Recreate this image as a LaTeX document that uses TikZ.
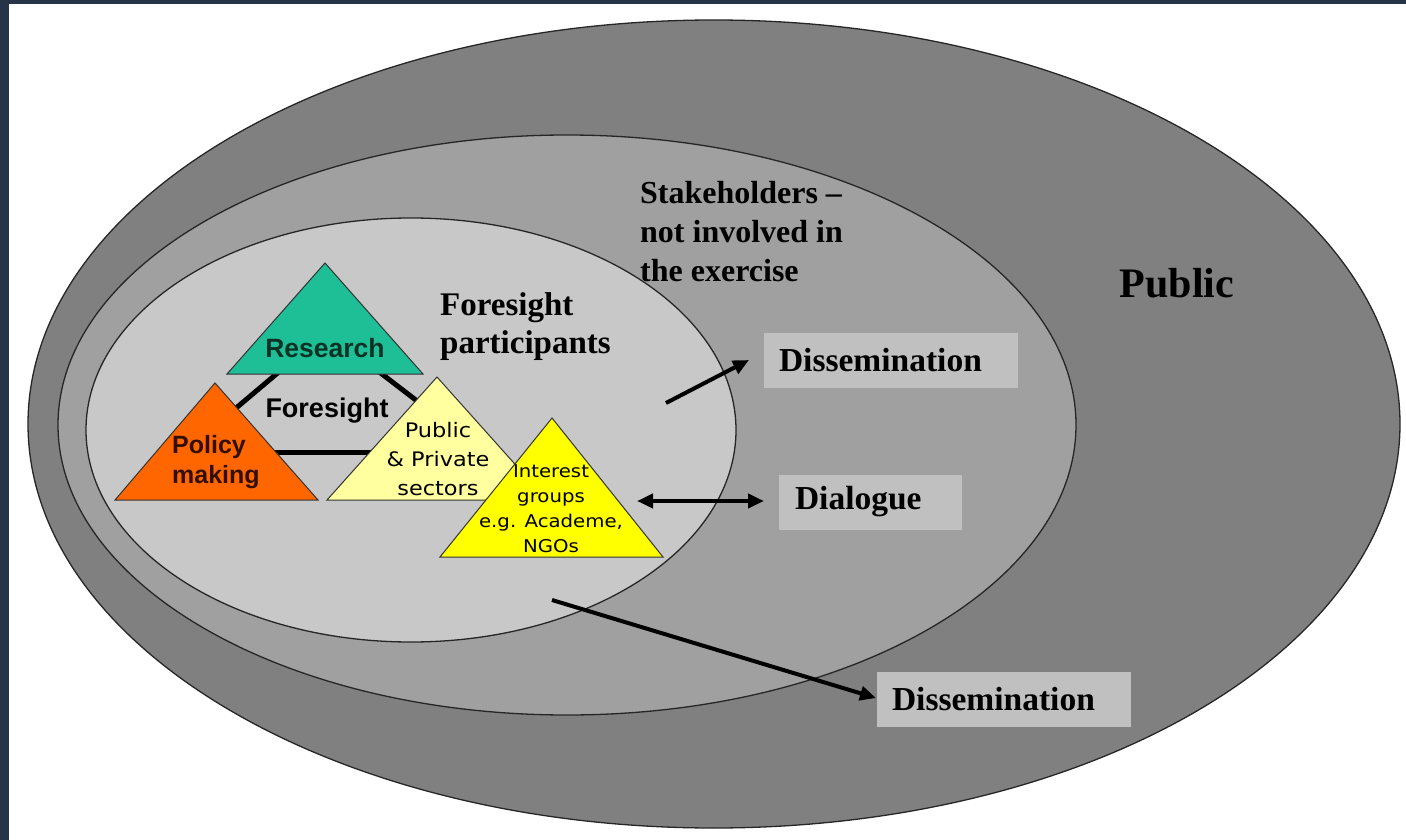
\documentclass[tikz,border=0pt]{standalone}
\usepackage{fontspec}
\setmainfont{Liberation Serif}
\newfontfamily\sansB{Liberation Sans}
\newfontfamily\dvs[FakeStretch=1.12]{DejaVu Sans}
\usetikzlibrary{arrows.meta,shapes.geometric}
\definecolor{framec}{RGB}{38,52,72}
\definecolor{outerg}{RGB}{128,128,128}
\definecolor{midg}{RGB}{160,160,160}
\definecolor{innerg}{RGB}{200,200,200}
\definecolor{boxg}{RGB}{192,192,192}
\definecolor{teal}{RGB}{30,190,150}
\definecolor{orng}{RGB}{255,102,0}
\definecolor{lyel}{RGB}{255,255,160}
\definecolor{yel}{RGB}{255,255,0}
\definecolor{dgreen}{RGB}{12,50,38}
\definecolor{dbrown}{RGB}{50,15,0}
\tikzset{
  ell/.style={ellipse, draw=black!85, line width=1.3pt, inner sep=0pt},
  tri/.style={draw=black!80, line width=1pt, line join=miter},
  link/.style={line width=5pt, black},
  lbox/.style={fill=boxg, inner xsep=15pt, inner ysep=0pt, minimum height=55pt, align=left,
     font=\fontsize{33.5}{38}\selectfont\bfseries},
  arr/.style={line width=4pt, -{Triangle[length=16pt,width=14pt]}},
  darr/.style={line width=4pt, {Triangle[length=16pt,width=14pt]}-{Triangle[length=16pt,width=14pt]}},
}
\begin{document}
\begin{tikzpicture}[x=1pt,y=-1pt]
\fill[framec] (0,0) rectangle (1406,840);
\fill[white] (9,4) rectangle (1406,840);
\useasboundingbox (0,0) rectangle (1406,840);

% ellipses
\node[ell, fill=outerg, minimum width=1372pt, minimum height=808pt] (public) at (714,424) {};
\node[ell, fill=midg, minimum width=1018pt, minimum height=580pt] (stake) at (567,425) {};
\node[ell, fill=innerg, minimum width=650pt, minimum height=424pt] (part) at (411,430) {};

% links between triangles (behind)
\coordinate (l1a) at (229,414); \coordinate (l1b) at (280,371);
\coordinate (l2a) at (378,371); \coordinate (l2b) at (421,404);
\coordinate (l3a) at (268,452); \coordinate (l3b) at (376,452);
\draw[link] (l1a) -- (l1b);
\draw[link] (l2a) -- (l2b);
\draw[link] (l3a) -- (l3b);

% triangles
\draw[tri, fill=teal] (325,263) -- (227,374) -- (423,374) -- cycle;
\draw[tri, fill=orng] (215,383) -- (115,500) -- (318,500) -- cycle;
\draw[tri, fill=lyel] (437,377) -- (327,500) -- (547,500) -- cycle;
\draw[tri, fill=yel] (552,418) -- (440,557) -- (663,557) -- cycle;

% triangle labels
\node[anchor=base, inner sep=0pt, text=dgreen, font=\sansB\fontsize{26.5}{30}\selectfont\bfseries] (research) at (325,357) {Research};
\node[anchor=base, inner sep=0pt, font=\sansB\fontsize{27}{30}\selectfont\bfseries] (foresight) at (327,417) {Foresight};
\node[anchor=north west, inner sep=0pt, align=left, text=dbrown, font=\sansB\fontsize{25}{30}\selectfont\bfseries] (policy) at (172,435) {Policy\\making};
\node[anchor=north, inner sep=0pt, align=center, font=\dvs\fontsize{20}{29}\selectfont] (pps) at (438,422) {Public\\\& Private\\sectors};
\node[anchor=north, inner sep=0pt, align=center, font=\dvs\fontsize{17.6}{25.3}\selectfont] (interest) at (551,464) {Interest\\groups\\e.g. Academe,\\NGOs};

% ellipse labels
\node[anchor=north west, inner sep=0pt, align=left, font=\fontsize{33}{38}\selectfont\bfseries] (fpart) at (440,292.5) {Foresight\\participants};
\node[anchor=north west, inner sep=0pt, align=left, font=\fontsize{32}{39}\selectfont\bfseries] (stlabel) at (640,181) {Stakeholders –\\not involved in\\the exercise};
\node[anchor=base, inner sep=0pt, font=\fontsize{42}{46}\selectfont\bfseries] (publabel) at (1177,297) {Public};

% boxes
\node[lbox, minimum width=254pt, text width=224pt] (diss1) at (891,360) {Dissemination};
\node[lbox, minimum width=183pt, text width=151pt, inner xsep=16pt] (dial) at (870.5,502) {Dialogue};
\node[lbox, minimum width=254pt, text width=224pt] (diss2) at (1004,699.5) {Dissemination};

% arrows
\coordinate (a1s) at (666,403); \coordinate (a1e) at (749,360);
\draw[arr] (a1s) -- (a1e);
\coordinate (a2s) at (637,501); \coordinate (a2e) at (764,501);
\draw[darr] (a2s) -- (a2e);
\coordinate (a3s) at (552,600); \coordinate (a3e) at (876,698);
\draw[arr] (a3s) -- (a3e);
\end{tikzpicture}
\end{document}
